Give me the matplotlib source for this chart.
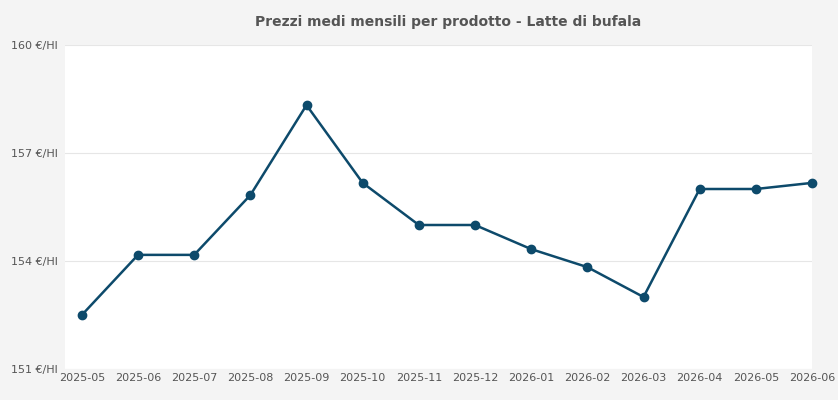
import matplotlib.pyplot as plt

months = ["2025-05","2025-06","2025-07","2025-08","2025-09","2025-10","2025-11","2025-12",
          "2026-01","2026-02","2026-03","2026-04","2026-05","2026-06"]
prices = [152.5,154.17,154.17,155.83,158.33,156.17,155.0,155.0,154.33,153.83,153.0,156.0,156.0,156.17]
yticks = [151,154,157,160]

fig = plt.figure(figsize=(8.38,4.0),dpi=100,facecolor="#f4f4f4")
ax = fig.add_axes([65/838, 1-369/400, (812-65)/838, (369-45)/400])
ax.set_facecolor("white")
x = list(range(len(months)))
ax.plot(x, prices, color="#0d4a6b", lw=1.8, marker="o", ms=6, zorder=3, clip_on=False)
ax.set_xlim(-0.3, 13)
ax.set_ylim(151,160)
ax.set_yticks(yticks)
ax.set_yticklabels([f"{v} €/Hl" for v in yticks])
ax.set_xticks(x)
ax.set_xticklabels(months)
ax.tick_params(length=0, labelsize=8, colors="#555555")
ax.yaxis.set_tick_params(pad=5)
ax.xaxis.set_tick_params(pad=3)
ax.grid(axis="y", color="#e6e6e6", lw=0.8)
for s in ax.spines.values():
    s.set_visible(False)
fig.text(0.535, 1-22/400, "Prezzi medi mensili per prodotto - Latte di bufala", ha="center", va="center",
         fontsize=10, fontweight="bold", color="#555555")
fig.savefig("out.png", dpi=100, facecolor=fig.get_facecolor())
